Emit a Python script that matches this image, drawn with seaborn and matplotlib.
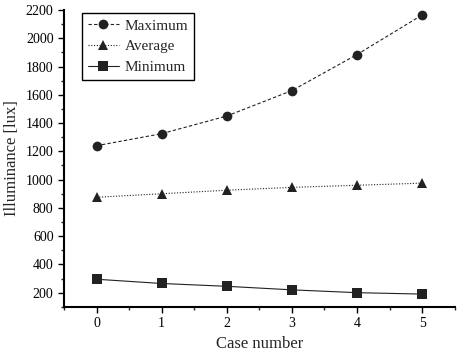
import pandas as pd
import seaborn as sns
import matplotlib.pyplot as plt
from matplotlib.ticker import MultipleLocator

# data
cases = [0, 1, 2, 3, 4, 5]
maximum = [1240, 1325, 1450, 1630, 1885, 2165]
average = [875, 900, 925, 945, 960, 975]
minimum = [295, 265, 245, 220, 200, 190]

df = pd.DataFrame({
    'case': cases * 3,
    'lux': maximum + average + minimum,
    'series': ['Maximum'] * 6 + ['Average'] * 6 + ['Minimum'] * 6,
})

sns.set_style("ticks")
plt.rcParams['font.family'] = ['Liberation Serif', 'DejaVu Serif']

fig = plt.figure(figsize=(4.57, 3.58), dpi=100)
ax = fig.add_axes([0.14, 0.143, 0.855, 0.829])

sns.lineplot(data=df, x='case', y='lux', hue='series', style='series',
             palette={'Maximum': '#222222', 'Average': '#222222', 'Minimum': '#222222'},
             markers={'Maximum': 'o', 'Average': '^', 'Minimum': 's'},
             dashes={'Maximum': (3, 2), 'Average': (1, 1.5), 'Minimum': ''},
             markersize=7, linewidth=0.8, markeredgewidth=0, ax=ax)

ax.set_xlim(-0.5, 5.5)
ax.set_ylim(100, 2200)
ax.xaxis.set_major_locator(MultipleLocator(1))
ax.xaxis.set_minor_locator(MultipleLocator(0.5))
ax.yaxis.set_minor_locator(MultipleLocator(100))
ax.set_yticks(range(200, 2201, 200))
ax.tick_params(axis='both', which='major', direction='out', length=4, width=1, labelsize=10, colors='black')
ax.tick_params(axis='both', which='minor', direction='out', length=2, width=1)

sns.despine(ax=ax)
for s in ['left', 'bottom']:
    ax.spines[s].set_linewidth(1.5)
    ax.spines[s].set_color('black')

ax.set_xlabel('Case number', fontsize=12)
ax.set_ylabel('Illuminance [lux]', fontsize=12)

leg = ax.legend(loc='upper left', bbox_to_anchor=(0.046, 0.99), fontsize=11,
                frameon=True, fancybox=False, edgecolor='black',
                handlelength=2.0, handletextpad=0.4, borderpad=0.4,
                labelspacing=0.45, borderaxespad=0)
leg.get_frame().set_linewidth(1)
leg.get_frame().set_alpha(1)

fig.savefig('out.png', dpi=100)
